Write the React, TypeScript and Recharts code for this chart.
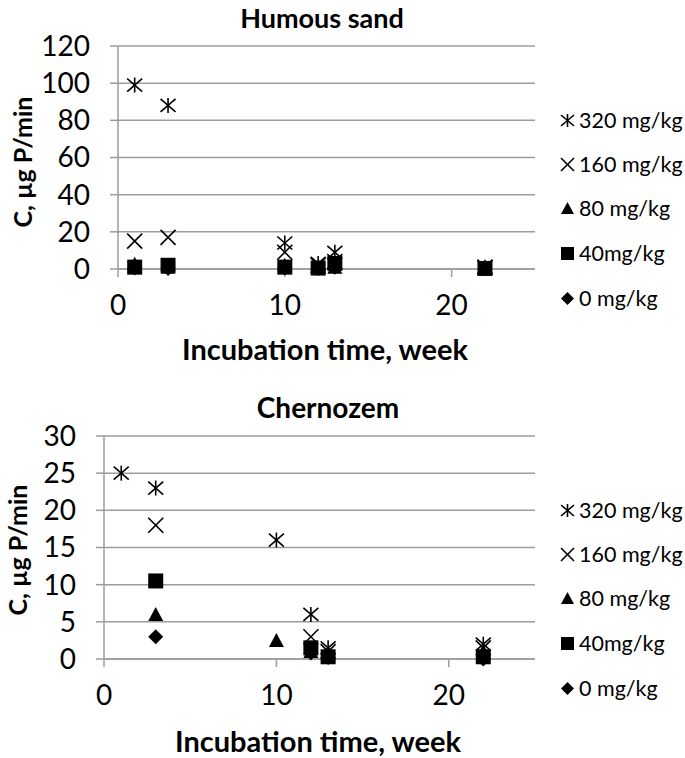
import React from "react";
import { CartesianGrid, Scatter, ScatterChart, XAxis, YAxis } from "recharts";

// weeks of incubation, shared by both soils
const weeks = [1, 3, 10, 12, 13, 22];

// Humous sand, C in µg P/min
const humous320 = [99, 88, 14, 3, 9, 1];
const humous160 = [15, 17, 9, 2, 4, 1];
const humous80 = [2.5, 1, 2, 0.8, 1, 0.5];
const humous40 = [1, 2, 1, 0.5, 3, 0.3];
const humous0 = [0.5, 0.3, 0.5, 0.3, 1, 0.2];

// Chernozem, C in µg P/min (null = no point)
const chern320 = [25, 23, 16, 6, 1.5, 2];
const chern160 = [null, 18, null, 3, 1, 1.5];
const chern80 = [null, 6, 2.5, 1, 0.5, 1];
const chern40 = [null, 10.5, null, 1.5, 0.3, 0.3];
const chern0 = [null, 3, null, 0.8, 0.2, 0];

const xTicks = [0, 10, 20];
const humousTicks = [0, 20, 40, 60, 80, 100, 120];
const chernTicks = [0, 5, 10, 15, 20, 25, 30];

const seriesNames = ["320 mg/kg", "160 mg/kg", "80 mg/kg", "40mg/kg", "0 mg/kg"];
const seriesKinds = ["asterisk", "x", "triangle", "square", "diamond"];

const FONT = "Lato, 'Open Sans', sans-serif";
const GRID = "#9c9c9c";

type Kind = "asterisk" | "x" | "triangle" | "square" | "diamond";

function Marker({ kind, cx, cy, r = 7.5 }: { kind: Kind; cx: number; cy: number; r?: number }) {
  if (kind === "asterisk") {
    return (
      <g stroke="#000" strokeWidth={1.6}>
        <line x1={cx - r} y1={cy - r + 1} x2={cx + r} y2={cy + r - 1} />
        <line x1={cx + r} y1={cy - r + 1} x2={cx - r} y2={cy + r - 1} />
        <line x1={cx} y1={cy - r} x2={cx} y2={cy + r} />
      </g>
    );
  }
  if (kind === "x") {
    return (
      <g stroke="#000" strokeWidth={1.6}>
        <line x1={cx - r} y1={cy - r} x2={cx + r} y2={cy + r} />
        <line x1={cx + r} y1={cy - r} x2={cx - r} y2={cy + r} />
      </g>
    );
  }
  if (kind === "triangle") {
    return <polygon points={`${cx},${cy - r} ${cx + r},${cy + r - 1} ${cx - r},${cy + r - 1}`} fill="#000" />;
  }
  if (kind === "square") {
    return <rect x={cx - r} y={cy - r} width={2 * r} height={2 * r} fill="#000" />;
  }
  return <polygon points={`${cx},${cy - r} ${cx + r},${cy} ${cx},${cy + r} ${cx - r},${cy}`} fill="#000" />;
}

const toPoints = (ys: (number | null)[]) =>
  weeks.map((x, i) => ({ x, y: ys[i] })).filter((p) => p.y !== null);

function Panel({ series, ticks, max, axisWidth }: {
  series: (number | null)[][]; ticks: number[]; max: number; axisWidth: number;
}) {
  // draw order: 0 mg/kg first, 320 mg/kg on top
  const order = [4, 3, 2, 1, 0];
  return (
    <ScatterChart width={685} height={380} margin={{ top: 46, right: 150, bottom: 71, left: 0 }}>
      <CartesianGrid vertical={false} stroke={GRID} strokeWidth={1.5} />
      <XAxis
        type="number" dataKey="x" domain={[0, 25]} ticks={xTicks} height={40}
        stroke={GRID} strokeWidth={1.5} tickSize={8} tickMargin={18}
        tick={{ fill: "#000", fontSize: 28, fontFamily: FONT }}
      />
      <YAxis
        type="number" dataKey="y" domain={[0, max]} ticks={ticks} width={axisWidth}
        stroke={GRID} strokeWidth={1.5} tickSize={8} tickMargin={20}
        tick={{ fill: "#000", fontSize: 28, fontFamily: FONT }}
      />
      {order.map((i) => (
        <Scatter
          key={seriesNames[i]}
          name={seriesNames[i]}
          data={toPoints(series[i])}
          isAnimationActive={false}
          shape={(p: any) => <Marker kind={seriesKinds[i] as Kind} cx={p.cx} cy={p.cy} />}
        />
      ))}
    </ScatterChart>
  );
}

function LegendBox({ rows }: { rows: number[] }) {
  return (
    <>
      {seriesNames.map((name, i) => (
        <div key={name} style={{
          position: "absolute", left: 559, top: rows[i], transform: "translateY(-50%)",
          display: "flex", alignItems: "center", fontFamily: FONT, fontSize: 21.5, whiteSpace: "nowrap",
        }}>
          <svg width={17} height={17} style={{ marginRight: 3 }}>
            <Marker kind={seriesKinds[i] as Kind} cx={8.5} cy={8.5} r={6.5} />
          </svg>
          {name}
        </div>
      ))}
    </>
  );
}

const textStyle = (x: number, y: number, size: number, rotate = 0): React.CSSProperties => ({
  position: "absolute", left: x, top: y, transform: `translate(-50%, -50%) rotate(${rotate}deg)`,
  fontFamily: FONT, fontWeight: 700, fontSize: size, whiteSpace: "nowrap", color: "#000",
});

export default function App() {
  return (
    <div style={{ position: "absolute", left: 0, top: 0, width: 685, height: 758, background: "#fff" }}>
      <div style={{ position: "absolute", left: 0, top: 0 }}>
        <Panel series={[humous320, humous160, humous80, humous40, humous0]} ticks={humousTicks} max={120} axisWidth={118} />
      </div>
      <div style={{ position: "absolute", left: 0, top: 390 }}>
        <Panel series={[chern320, chern160, chern80, chern40, chern0]} ticks={chernTicks} max={30} axisWidth={104} />
      </div>
      <div style={textStyle(322, 17, 27)}>Humous sand</div>
      <div style={textStyle(22, 162, 25, -90)}>C, µg P/min</div>
      <div style={textStyle(325, 348, 29)}>Incubation time, week</div>
      <LegendBox rows={[120, 164, 208, 253, 298]} />
      <div style={textStyle(328, 407, 28)}>Chernozem</div>
      <div style={textStyle(17, 550, 25, -90)}>C, µg P/min</div>
      <div style={textStyle(318, 740, 29)}>Incubation time, week</div>
      <LegendBox rows={[510, 554, 598, 643, 688]} />
    </div>
  );
}
